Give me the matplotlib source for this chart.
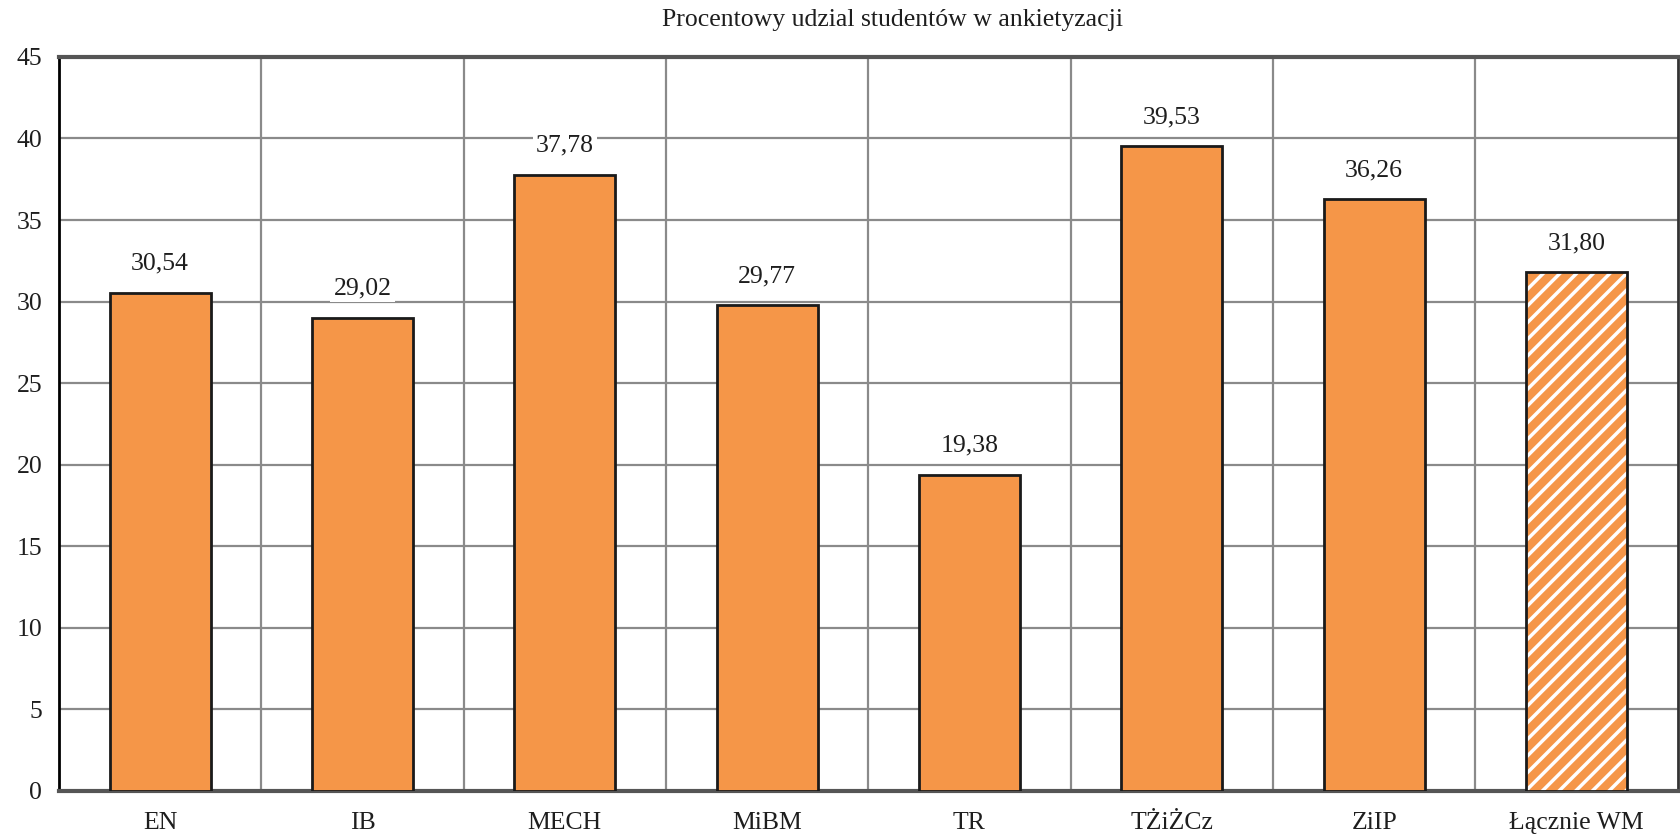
import matplotlib
matplotlib.use("Agg")
import matplotlib.pyplot as plt
import numpy as np

categories = ["EN", "IB", "MECH", "MiBM", "TR", "TŻiŻCz", "ZiIP", "Łącznie WM"]
values = [30.54, 29.02, 37.78, 29.77, 19.38, 39.53, 36.26, 31.80]
labels = ["30,54", "29,02", "37,78", "29,77", "19,38", "39,53", "36,26", "31,80"]
title = "Procentowy udzial studentów w ankietyzacji"
yticks = [0, 5, 10, 15, 20, 25, 30, 35, 40, 45]

plt.rcParams['font.family'] = ['Liberation Serif', 'DejaVu Serif']
plt.rcParams['hatch.linewidth'] = 2.5
orange = '#F59648'
edge = '#1a1a1a'
txt = '#1e1e1e'
fs = 18.5

fig = plt.figure(figsize=(16.81, 8.38), dpi=100)
ax = fig.add_axes([0.0351, 0.0561, 0.9629, 0.876])

x = np.arange(len(categories))
n = len(categories)
# regular bars
ax.bar(x[:-1], values[:-1], width=0.5, color=orange, edgecolor=edge, linewidth=2.0, zorder=3)
# hatched total bar: white hatch, then black outline
ax.bar(x[-1:], values[-1:], width=0.5, color=orange, edgecolor='white', linewidth=0, hatch='//', zorder=3)
ax.bar(x[-1:], values[-1:], width=0.5, fill=False, edgecolor=edge, linewidth=2.0, zorder=4)

for xi, v, lab in zip(x, values, labels):
    ax.annotate(lab, (xi, v), xytext=(0, 21), textcoords='offset points',
                ha='center', va='center', fontsize=fs, color=txt, zorder=5,
                bbox=dict(boxstyle='square,pad=0.12', fc='white', ec='none'))

ax.set_xlim(-0.5, n - 0.5)
ax.set_ylim(0, 45)
ax.set_yticks(yticks)
ax.set_yticklabels([str(t) for t in yticks], fontsize=fs, color=txt)
ax.set_xticks(x)
ax.set_xticklabels(categories, fontsize=fs, color=txt)
ax.set_xticks(np.arange(0.5, n - 0.5, 1.0), minor=True)
ax.tick_params(axis='both', which='both', length=0)
ax.tick_params(axis='x', pad=15)
ax.tick_params(axis='y', pad=12)

ax.yaxis.grid(True, color='#8a8a8a', linewidth=1.6, zorder=0)
ax.xaxis.grid(True, which='minor', color='#8a8a8a', linewidth=1.6, zorder=0)
ax.xaxis.grid(False, which='major')
ax.set_axisbelow(True)

ax.spines['left'].set_color('black')
ax.spines['left'].set_linewidth(2.0)
ax.spines['top'].set_color('#555555')
ax.spines['top'].set_linewidth(3.0)
ax.spines['bottom'].set_color('#555555')
ax.spines['bottom'].set_linewidth(3.0)
ax.spines['right'].set_color('#333333')
ax.spines['right'].set_linewidth(2.0)

fig.text(0.531, 0.976, title, ha='center', va='center', fontsize=fs, color=txt)

fig.savefig("out.png", dpi=100)
